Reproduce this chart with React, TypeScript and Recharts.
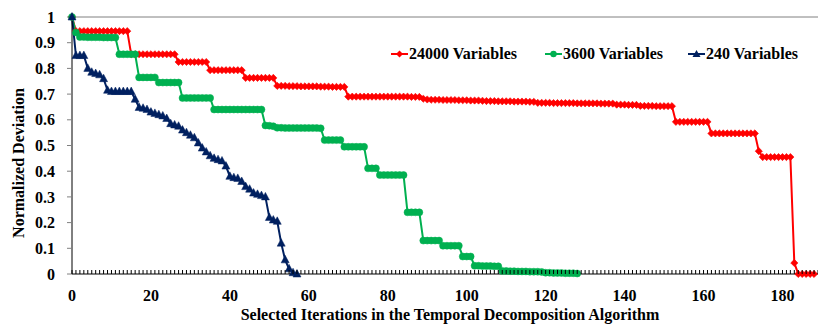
import React from 'react';
import { LineChart, Line, XAxis, YAxis, ReferenceLine, Legend, Label } from 'recharts';

const red24000: number[] = [
  1,
  0.945, 0.945, 0.945, 0.945, 0.945, 0.945, 0.945, 0.945, 0.945, 0.945, 0.945, 0.945, 0.945, 0.945,
  0.855, 0.855, 0.855, 0.855, 0.855, 0.855, 0.855, 0.855, 0.855, 0.855, 0.855, 0.855,
  0.825, 0.825, 0.825, 0.825, 0.825, 0.825, 0.825, 0.825,
  0.793, 0.793, 0.793, 0.793, 0.793, 0.793, 0.793, 0.793, 0.793,
  0.763, 0.763, 0.763, 0.763, 0.763, 0.763, 0.763, 0.763,
  0.732, 0.732, 0.732, 0.731, 0.731, 0.731, 0.73, 0.73, 0.73, 0.73, 0.73, 0.729, 0.729, 0.729, 0.728, 0.728, 0.728, 0.728,
  0.69, 0.69, 0.69, 0.69, 0.69, 0.69, 0.69, 0.69, 0.69, 0.69, 0.69, 0.69, 0.69, 0.69, 0.69, 0.69, 0.689, 0.689, 0.689,
  0.682, 0.679, 0.678, 0.678, 0.678, 0.677, 0.677, 0.677, 0.677, 0.676, 0.676, 0.676, 0.675, 0.675, 0.675, 0.674,
  0.673, 0.673, 0.673, 0.672, 0.672, 0.672, 0.672, 0.671, 0.671, 0.671, 0.671, 0.67, 0.67,
  0.666, 0.666, 0.666, 0.666, 0.665, 0.665, 0.665, 0.665, 0.665, 0.665, 0.664, 0.664, 0.664, 0.664, 0.664, 0.664, 0.663, 0.663, 0.663, 0.663,
  0.659, 0.659, 0.659, 0.658, 0.658, 0.658,
  0.654, 0.654, 0.654, 0.654, 0.653, 0.653, 0.653, 0.653, 0.653,
  0.592, 0.592, 0.592, 0.592, 0.592, 0.592, 0.592, 0.592, 0.592,
  0.547, 0.547, 0.547, 0.547, 0.547, 0.547, 0.547, 0.547, 0.547, 0.547, 0.547, 0.547,
  0.478,
  0.455, 0.455, 0.455, 0.455, 0.455, 0.455, 0.455, 0.455,
  0.043,
  0, 0, 0, 0, 0,
];

const green3600: number[] = [
  1,
  0.94,
  0.922, 0.922, 0.921, 0.921, 0.921, 0.921, 0.92, 0.92, 0.92, 0.92,
  0.855, 0.855, 0.855, 0.855, 0.855,
  0.765, 0.765, 0.765, 0.765, 0.765,
  0.745, 0.745, 0.745, 0.745, 0.745, 0.745,
  0.685, 0.685, 0.685, 0.685, 0.685, 0.685, 0.685, 0.685,
  0.64, 0.64, 0.64, 0.64, 0.64, 0.64, 0.64, 0.64, 0.64, 0.64, 0.64, 0.64, 0.64,
  0.578, 0.577, 0.575,
  0.569, 0.569, 0.568, 0.568, 0.568, 0.568, 0.568, 0.568, 0.568, 0.568, 0.568, 0.567,
  0.521, 0.521, 0.521, 0.521, 0.521,
  0.495, 0.495, 0.495, 0.495, 0.495, 0.495,
  0.411, 0.411, 0.411,
  0.385, 0.385, 0.385, 0.385, 0.385, 0.385, 0.385,
  0.24, 0.24, 0.24, 0.24,
  0.13, 0.13, 0.13, 0.13, 0.13,
  0.11, 0.11, 0.11, 0.11, 0.11,
  0.068, 0.068, 0.068,
  0.032, 0.032, 0.031, 0.031, 0.031, 0.03, 0.03,
  0.012, 0.012, 0.011, 0.011, 0.01, 0.01, 0.01, 0.009, 0.009, 0.009, 0.008,
  0.005, 0.005, 0.004, 0.004, 0.004, 0.003, 0.003, 0.003, 0.002,
];

const navy240: number[] = [
  1, 0.85, 0.85, 0.85, 0.8, 0.785, 0.78, 0.775, 0.76, 0.715,
  0.71, 0.71, 0.71, 0.71, 0.71, 0.71, 0.68, 0.648, 0.645, 0.64,
  0.63, 0.625, 0.62, 0.615, 0.605, 0.585, 0.58, 0.575, 0.56, 0.55,
  0.54, 0.53, 0.51, 0.49, 0.475, 0.46, 0.45, 0.445, 0.44, 0.42,
  0.38, 0.375, 0.372, 0.36, 0.34, 0.33, 0.315, 0.31, 0.305, 0.3,
  0.22, 0.21, 0.205, 0.12, 0.055, 0.02, 0.005, 0,
];

const seriesNames = ['24000 Variables', '3600 Variables', '240 Variables'];
const xLabelTicks = [0, 20, 40, 60, 80, 100, 120, 140, 160, 180];
const yTicks = [0, 0.1, 0.2, 0.3, 0.4, 0.5, 0.6, 0.7, 0.8, 0.9, 1];
const xTitle = 'Selected Iterations in the Temporal Decomposition Algorithm';
const yTitle = 'Normalized Deviation';

const RED = '#FF0000';
const GREEN = '#00B050';
const NAVY = '#002060';
const FONT = '"Liberation Serif", "Times New Roman", serif';

const data = red24000.map((r, i) => ({
  i,
  red: r,
  green: i < green3600.length ? green3600[i] : null,
  navy: i < navy240.length ? navy240[i] : null,
}));

const minorTicks = Array.from({ length: 190 }, (_, k) => k);

const ok = (v: any) => typeof v === 'number' && !isNaN(v);

const DiamondDot = (p: any) => {
  const { cx, cy, index } = p;
  if (!ok(cx) || !ok(cy)) return <g key={index} />;
  const s = 3.6;
  return (
    <polygon
      key={index}
      points={`${cx},${cy - s} ${cx + s},${cy} ${cx},${cy + s} ${cx - s},${cy}`}
      fill={RED}
      stroke={RED}
      strokeWidth={0.6}
    />
  );
};

const CircleDot = (p: any) => {
  const { cx, cy, index } = p;
  if (!ok(cx) || !ok(cy)) return <g key={index} />;
  return <circle key={index} cx={cx} cy={cy} r={3.5} fill={GREEN} stroke={GREEN} strokeWidth={0.5} />;
};

const TriangleDot = (p: any) => {
  const { cx, cy, index } = p;
  if (!ok(cx) || !ok(cy)) return <g key={index} />;
  return (
    <polygon
      key={index}
      points={`${cx},${cy - 4.5} ${cx + 4},${cy + 3} ${cx - 4},${cy + 3}`}
      fill={NAVY}
      stroke={NAVY}
      strokeWidth={0.5}
    />
  );
};

const textStyle = { fontFamily: FONT, fontWeight: 700 as const, fontSize: 16 };

const XTick = (props: any) => {
  const { x, y, payload } = props;
  const v = payload.value;
  const showLabel = xLabelTicks.indexOf(v) >= 0;
  return (
    <g>
      <line x1={x} x2={x} y1={y - 4} y2={y} stroke="#000" strokeWidth={1} />
      {showLabel ? (
        <text x={x} y={y + 21} dy="0.355em" textAnchor="middle" style={textStyle} fill="#000">
          {v}
        </text>
      ) : null}
    </g>
  );
};

const YTick = (props: any) => {
  const { x, y, payload } = props;
  return (
    <text x={x} y={y} dy="0.355em" textAnchor="end" style={textStyle} fill="#000">
      {String(payload.value)}
    </text>
  );
};

const legendItems = [
  { name: seriesNames[0], color: RED, left: 391, shape: 'diamond' },
  { name: seriesNames[1], color: GREEN, left: 545, shape: 'circle' },
  { name: seriesNames[2], color: NAVY, left: 688, shape: 'triangle' },
];

const LegendContent = () => (
  <div style={{ position: 'relative', width: 818, height: 20 }}>
    {legendItems.map((it) => (
      <div
        key={it.name}
        style={{
          position: 'absolute',
          left: it.left,
          top: 0,
          display: 'flex',
          alignItems: 'center',
          height: 20,
          ...textStyle,
          color: '#000',
          whiteSpace: 'nowrap',
        }}
      >
        <svg width={17} height={10} style={{ display: 'block', marginRight: 1 }}>
          <line x1={0} x2={17} y1={5} y2={5} stroke={it.color} strokeWidth={2} />
          {it.shape === 'diamond' ? (
            <polygon points="8.5,1.5 12,5 8.5,8.5 5,5" fill={it.color} />
          ) : it.shape === 'circle' ? (
            <circle cx={8.5} cy={5} r={3.2} fill={it.color} />
          ) : (
            <polygon points="8.5,1 12.5,8 4.5,8" fill={it.color} />
          )}
        </svg>
        <span>{it.name}</span>
      </div>
    ))}
  </div>
);

export default function App() {
  return (
    <div style={{ position: 'absolute', left: 0, top: 0, width: 818, height: 324, background: '#fff', fontFamily: FONT }}>
      <LineChart width={818} height={324} data={data} margin={{ top: 17, right: 0, left: 0, bottom: 0 }}>
        <ReferenceLine y={1} stroke="#808080" strokeWidth={1} />
        <XAxis
          dataKey="i"
          type="number"
          domain={[0, 189]}
          ticks={minorTicks}
          interval={0}
          height={50}
          tickSize={0}
          tickMargin={0}
          tickLine={false}
          axisLine={{ stroke: '#000', strokeWidth: 1 }}
          tick={<XTick />}
        >
          <Label
            content={() => (
              <text x={450} y={314} dy="0.355em" textAnchor="middle" style={textStyle} fill="#000">
                {xTitle}
              </text>
            )}
          />
        </XAxis>
        <YAxis
          type="number"
          domain={[0, 1]}
          ticks={yTicks}
          interval={0}
          width={72}
          tickSize={5}
          tickMargin={12}
          tickLine={{ stroke: '#808080' }}
          axisLine={{ stroke: '#000', strokeWidth: 1 }}
          tick={<YTick />}
        >
          <Label
            content={() => (
              <text
                x={18}
                y={163}
                dy="0.355em"
                textAnchor="middle"
                transform="rotate(-90 18 163)"
                style={textStyle}
                fill="#000"
              >
                {yTitle}
              </text>
            )}
          />
        </YAxis>
        <Legend
          layout="horizontal"
          verticalAlign="middle"
          align="center"
          content={<LegendContent />}
          wrapperStyle={{ position: 'absolute', left: 0, top: 44, width: 818, height: 20 }}
        />
        <Line
          type="linear"
          dataKey="red"
          name={seriesNames[0]}
          stroke={RED}
          strokeWidth={2}
          dot={(p: any) => <DiamondDot {...p} />}
          activeDot={false}
          isAnimationActive={false}
        />
        <Line
          type="linear"
          dataKey="green"
          name={seriesNames[1]}
          stroke={GREEN}
          strokeWidth={2}
          dot={(p: any) => <CircleDot {...p} />}
          activeDot={false}
          isAnimationActive={false}
        />
        <Line
          type="linear"
          dataKey="navy"
          name={seriesNames[2]}
          stroke={NAVY}
          strokeWidth={2}
          dot={(p: any) => <TriangleDot {...p} />}
          activeDot={false}
          isAnimationActive={false}
        />
      </LineChart>
    </div>
  );
}
